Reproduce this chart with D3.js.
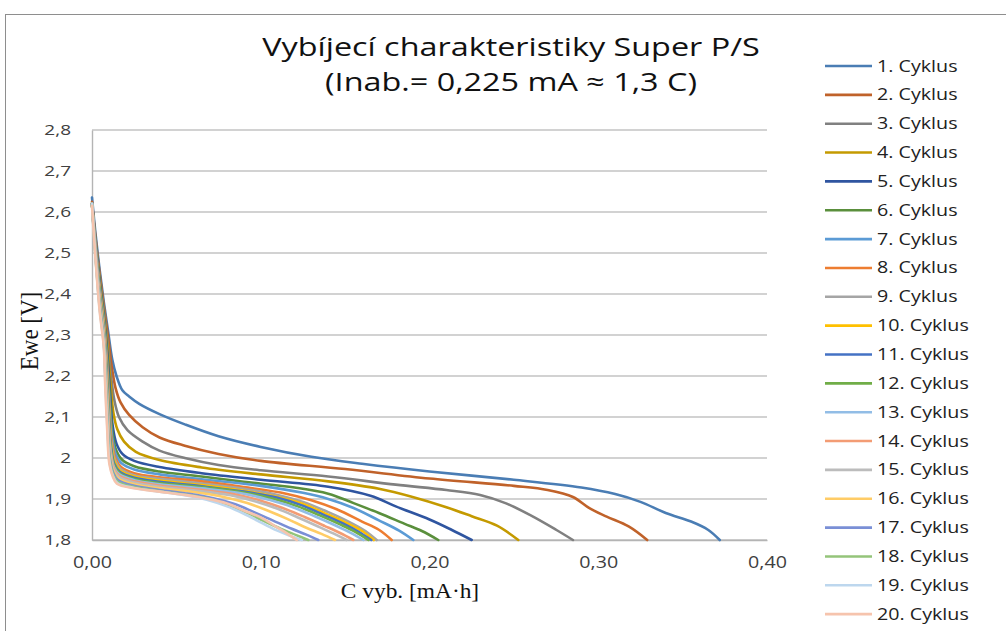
<!DOCTYPE html>
<html>
<head>
<meta charset="utf-8">
<script src="https://cdn.jsdelivr.net/npm/d3@7"></script>
<style>
  body { margin: 0; background: #fff; }
  svg { display: block; }
</style>
</head>
<body>
<div id="chart"></div>
<script>
// chart data
var titleLines = ["Vybíjecí charakteristiky Super P/S", "(Inab.= 0,225 mA ≈ 1,3 C)"];
var xTitle = "C vyb. [mA·h]";
var yTitle = "Ewe [V]";

var xTickValues = [0, 0.1, 0.2, 0.3, 0.4];
var xTickLabels = ["0,00", "0,10", "0,20", "0,30", "0,40"];
var yTickValues = [1.8, 1.9, 2.0, 2.1, 2.2, 2.3, 2.4, 2.5, 2.6, 2.7, 2.8];
var yTickLabels = ["1,8", "1,9", "2", "2,1", "2,2", "2,3", "2,4", "2,5", "2,6", "2,7", "2,8"];

var seriesNames = ["1. Cyklus", "2. Cyklus", "3. Cyklus", "4. Cyklus", "5. Cyklus",
  "6. Cyklus", "7. Cyklus", "8. Cyklus", "9. Cyklus", "10. Cyklus",
  "11. Cyklus", "12. Cyklus", "13. Cyklus", "14. Cyklus", "15. Cyklus",
  "16. Cyklus", "17. Cyklus", "18. Cyklus", "19. Cyklus", "20. Cyklus"];

var seriesColors = ["#4a7db4", "#c0622a", "#808080", "#c49a00", "#2f55a0",
  "#5a8f3c", "#5b9bd5", "#ed7d31", "#a5a5a5", "#ffc000",
  "#4472c4", "#70ad47", "#92bde6", "#f39c74", "#bcbcbc",
  "#ffcc66", "#7a8fd6", "#94c47a", "#bdd7ee", "#f6c4ad"];

// [capacity mA·h, Ewe V]
var c1 = [[0,2.635],[0.002,2.55],[0.0045,2.46],[0.007,2.38],[0.0095,2.31],[0.012,2.24],[0.0145,2.2],[0.018,2.165],[0.022,2.15],[0.028,2.132],[0.04,2.107],[0.055,2.082],[0.075,2.053],[0.10,2.027],[0.13,2.003],[0.16,1.986],[0.20,1.967],[0.25,1.947],[0.29,1.928],[0.31,1.912],[0.325,1.893],[0.34,1.866],[0.355,1.845],[0.365,1.825],[0.372,1.80]];
var c2 = [[0,2.625],[0.002,2.54],[0.0045,2.45],[0.007,2.37],[0.0095,2.295],[0.0118,2.22],[0.014,2.17],[0.017,2.135],[0.022,2.105],[0.03,2.075],[0.04,2.05],[0.055,2.03],[0.075,2.01],[0.10,1.993],[0.15,1.973],[0.20,1.95],[0.25,1.932],[0.27,1.922],[0.285,1.905],[0.295,1.877],[0.305,1.857],[0.318,1.833],[0.329,1.80]];
var c3 = [[0,2.62],[0.002,2.535],[0.0045,2.44],[0.007,2.36],[0.0093,2.28],[0.0113,2.2],[0.0133,2.14],[0.016,2.1],[0.021,2.068],[0.03,2.04],[0.04,2.018],[0.055,2.0],[0.075,1.983],[0.10,1.97],[0.14,1.955],[0.18,1.935],[0.21,1.922],[0.23,1.91],[0.245,1.89],[0.26,1.86],[0.275,1.825],[0.285,1.80]];
var c4 = [[0,2.62],[0.002,2.53],[0.0045,2.435],[0.007,2.35],[0.0092,2.27],[0.011,2.18],[0.0127,2.11],[0.015,2.07],[0.019,2.04],[0.026,2.015],[0.04,1.995],[0.065,1.977],[0.10,1.96],[0.14,1.943],[0.17,1.925],[0.19,1.905],[0.21,1.88],[0.225,1.858],[0.24,1.835],[0.2526,1.80]];
var c5 = [[0,2.62],[0.002,2.53],[0.0045,2.43],[0.007,2.345],[0.009,2.26],[0.0107,2.16],[0.0122,2.08],[0.0145,2.035],[0.018,2.01],[0.025,1.993],[0.04,1.978],[0.065,1.963],[0.10,1.947],[0.14,1.93],[0.165,1.908],[0.18,1.882],[0.20,1.85],[0.213,1.825],[0.225,1.80]];
var c6 = [[0,2.62],[0.002,2.525],[0.0045,2.425],[0.007,2.34],[0.0089,2.25],[0.0105,2.15],[0.012,2.065],[0.0142,2.02],[0.018,1.995],[0.025,1.98],[0.04,1.967],[0.065,1.955],[0.09,1.942],[0.12,1.928],[0.14,1.913],[0.155,1.89],[0.17,1.866],[0.185,1.84],[0.1955,1.822],[0.2052,1.80]];
var c7 = [[0,2.62],[0.002,2.525],[0.0045,2.42],[0.007,2.335],[0.0088,2.245],[0.0103,2.14],[0.0118,2.055],[0.014,2.01],[0.0175,1.987],[0.025,1.972],[0.04,1.96],[0.065,1.948],[0.10,1.932],[0.125,1.915],[0.14,1.90],[0.155,1.878],[0.17,1.848],[0.182,1.823],[0.1904,1.80]];
var c8 = [[0,2.62],[0.002,2.52],[0.0045,2.415],[0.007,2.33],[0.0087,2.24],[0.0102,2.13],[0.0116,2.045],[0.0138,2.0],[0.0172,1.978],[0.025,1.963],[0.04,1.953],[0.065,1.943],[0.09,1.929],[0.115,1.913],[0.13,1.897],[0.145,1.875],[0.16,1.845],[0.17,1.825],[0.1776,1.80]];
var c9 = [[0,2.62],[0.002,2.52],[0.0045,2.41],[0.007,2.325],[0.0086,2.235],[0.0101,2.125],[0.0114,2.04],[0.0136,1.995],[0.017,1.973],[0.025,1.958],[0.04,1.949],[0.065,1.938],[0.09,1.925],[0.11,1.91],[0.125,1.893],[0.14,1.868],[0.152,1.845],[0.162,1.822],[0.1687,1.80]];
var c10 = [[0,2.62],[0.002,2.515],[0.0045,2.405],[0.007,2.32],[0.0085,2.23],[0.01,2.12],[0.0113,2.035],[0.0134,1.99],[0.0168,1.969],[0.025,1.955],[0.04,1.945],[0.065,1.934],[0.09,1.92],[0.11,1.905],[0.125,1.888],[0.138,1.865],[0.15,1.843],[0.16,1.822],[0.167,1.80]];
var c11 = [[0,2.62],[0.002,2.515],[0.0045,2.4],[0.007,2.315],[0.0085,2.225],[0.0099,2.115],[0.0112,2.03],[0.0132,1.986],[0.0166,1.966],[0.025,1.952],[0.04,1.942],[0.065,1.931],[0.09,1.918],[0.11,1.903],[0.124,1.885],[0.137,1.862],[0.149,1.84],[0.158,1.82],[0.1655,1.80]];
var c12 = [[0,2.62],[0.002,2.51],[0.0045,2.4],[0.007,2.31],[0.0084,2.22],[0.0098,2.11],[0.0111,2.025],[0.0131,1.982],[0.0164,1.963],[0.025,1.949],[0.04,1.939],[0.065,1.929],[0.09,1.916],[0.108,1.90],[0.122,1.882],[0.135,1.86],[0.147,1.838],[0.156,1.82],[0.1638,1.80]];
var c13 = [[0,2.62],[0.002,2.51],[0.0045,2.395],[0.007,2.305],[0.0083,2.215],[0.0097,2.105],[0.011,2.02],[0.013,1.978],[0.0162,1.96],[0.025,1.946],[0.04,1.936],[0.065,1.926],[0.09,1.913],[0.105,1.898],[0.119,1.88],[0.132,1.858],[0.144,1.836],[0.153,1.818],[0.1608,1.80]];
var c14 = [[0,2.62],[0.002,2.505],[0.0045,2.39],[0.007,2.3],[0.0083,2.21],[0.0096,2.1],[0.0109,2.015],[0.0129,1.975],[0.016,1.957],[0.025,1.943],[0.04,1.933],[0.06,1.924],[0.085,1.911],[0.10,1.896],[0.113,1.878],[0.126,1.856],[0.138,1.834],[0.147,1.817],[0.1549,1.80]];
var c15 = [[0,2.62],[0.002,2.505],[0.0045,2.385],[0.007,2.295],[0.0082,2.205],[0.0095,2.095],[0.0108,2.01],[0.0128,1.972],[0.0158,1.954],[0.025,1.94],[0.04,1.93],[0.06,1.921],[0.082,1.909],[0.097,1.894],[0.11,1.876],[0.122,1.855],[0.134,1.833],[0.143,1.816],[0.1509,1.80]];
var c16 = [[0,2.62],[0.002,2.5],[0.0045,2.38],[0.007,2.29],[0.0081,2.2],[0.0094,2.09],[0.0107,2.005],[0.0127,1.968],[0.0156,1.95],[0.025,1.936],[0.04,1.926],[0.06,1.917],[0.078,1.905],[0.092,1.89],[0.104,1.872],[0.116,1.851],[0.127,1.83],[0.136,1.815],[0.144,1.80]];
var c17 = [[0,2.62],[0.002,2.5],[0.0045,2.375],[0.007,2.285],[0.008,2.195],[0.0093,2.085],[0.0106,2.0],[0.0126,1.964],[0.0154,1.946],[0.025,1.932],[0.04,1.922],[0.055,1.914],[0.072,1.902],[0.085,1.887],[0.096,1.868],[0.107,1.848],[0.118,1.828],[0.127,1.813],[0.1341,1.80]];
var c18 = [[0,2.62],[0.002,2.495],[0.0045,2.37],[0.007,2.28],[0.008,2.19],[0.0092,2.08],[0.0105,1.995],[0.0125,1.96],[0.0152,1.942],[0.025,1.929],[0.04,1.919],[0.055,1.911],[0.07,1.90],[0.082,1.884],[0.092,1.866],[0.102,1.846],[0.112,1.827],[0.121,1.812],[0.1282,1.80]];
var c19 = [[0,2.62],[0.002,2.495],[0.0045,2.365],[0.007,2.275],[0.0079,2.185],[0.0091,2.075],[0.0104,1.99],[0.0124,1.957],[0.015,1.939],[0.025,1.927],[0.04,1.918],[0.055,1.909],[0.068,1.898],[0.08,1.882],[0.09,1.864],[0.099,1.845],[0.108,1.826],[0.117,1.811],[0.1243,1.80]];
var c20 = [[0,2.615],[0.002,2.49],[0.0045,2.36],[0.007,2.27],[0.0078,2.18],[0.009,2.07],[0.0103,1.985],[0.0123,1.955],[0.0148,1.937],[0.025,1.926],[0.04,1.918],[0.055,1.91],[0.068,1.901],[0.08,1.889],[0.09,1.872],[0.10,1.855],[0.11,1.83],[0.116,1.815],[0.1213,1.80]];

var seriesData = [c1, c2, c3, c4, c5, c6, c7, c8, c9, c10,
  c11, c12, c13, c14, c15, c16, c17, c18, c19, c20];

//-----------------------------------------------------------------------------

var W = 1006, H = 631;
var plot = {left: 92, right: 767, top: 130, bottom: 540};
var stretchX = 1.27; //text in the reference is drawn a little wide
var sansFont = "'Open Sans', sans-serif";
var serifFont = "'Liberation Serif', 'Times New Roman', serif";

var svg = d3.select("#chart").append("svg")
  .attr("width", W)
  .attr("height", H);

//outer chart frame
svg.append("rect")
  .attr("x", 5.5).attr("y", 14.5)
  .attr("width", W + 10).attr("height", H + 10)
  .attr("fill", "#fff")
  .attr("stroke", "#8e8e8e")
  .attr("stroke-width", 1);

var x = d3.scaleLinear().domain([0, 0.4]).range([plot.left, plot.right]);
var y = d3.scaleLinear().domain([1.8, 2.8]).range([plot.bottom, plot.top]);

//horizontal gridlines
svg.append("g").attr("class", "grid")
  .selectAll("line")
  .data(yTickValues)
  .enter()
  .append("line")
  .attr("x1", plot.left).attr("x2", plot.right)
  .attr("y1", function(d) { return y(d); })
  .attr("y2", function(d) { return y(d); })
  .attr("stroke", "#c3c3c3")
  .attr("stroke-width", 1.4);

//y axis
var yAxis = svg.append("g")
  .attr("transform", "translate(" + plot.left + ",0)")
  .call(d3.axisLeft(y).tickValues(yTickValues).tickSize(0).tickPadding(21)
    .tickFormat(function(d, i) { return yTickLabels[i]; }));
yAxis.select(".domain").attr("stroke", "#b4b4b4").attr("stroke-width", 1.4);
yAxis.selectAll("text")
  .attr("font-family", sansFont)
  .attr("font-size", 15)
  .attr("fill", "#404040")
  .attr("transform", "scale(" + stretchX + ",1)")
  .attr("x", -21 / stretchX);

//x axis (tick text sits at x=0 inside each tick group)
var xAxis = svg.append("g")
  .attr("transform", "translate(0," + plot.bottom + ")")
  .call(d3.axisBottom(x).tickValues(xTickValues).tickSize(0).tickPadding(17)
    .tickFormat(function(d, i) { return xTickLabels[i]; }));
xAxis.select(".domain").attr("stroke", "#b4b4b4").attr("stroke-width", 1.4);
xAxis.selectAll("text")
  .attr("font-family", sansFont)
  .attr("font-size", 15.5)
  .attr("fill", "#404040")
  .attr("transform", "scale(" + stretchX + ",1)");

//series lines
var line = d3.line()
  .x(function(d) { return x(d[0]); })
  .y(function(d) { return y(d[1]); })
  .curve(d3.curveCatmullRom.alpha(0.5));

svg.append("g").attr("class", "series")
  .selectAll("path")
  .data(seriesData)
  .enter()
  .append("path")
  .attr("d", line)
  .attr("fill", "none")
  .attr("stroke", function(d, i) { return seriesColors[i]; })
  .attr("stroke-width", 2.6)
  .attr("stroke-linejoin", "round")
  .attr("stroke-linecap", "round");

//title
var title = svg.append("g").attr("class", "title");
titleLines.forEach(function(t, i) {
  title.append("text")
    .attr("transform", "translate(511," + (56 + i * 35) + ") scale(" + stretchX + ",1)")
    .attr("text-anchor", "middle")
    .attr("font-family", sansFont)
    .attr("font-size", 25.5)
    .attr("fill", "#111")
    .text(t);
});

//axis titles
svg.append("text")
  .attr("transform", "translate(410,598) scale(1.17,1)")
  .attr("text-anchor", "middle")
  .attr("font-family", serifFont)
  .attr("font-size", 20)
  .attr("fill", "#111")
  .text(xTitle);

svg.append("text")
  .attr("transform", "translate(38,331) rotate(-90) scale(1,1.1)")
  .attr("text-anchor", "middle")
  .attr("font-family", serifFont)
  .attr("font-size", 23)
  .attr("fill", "#111")
  .text(yTitle);

//legend
var legend = svg.append("g").attr("class", "legend")
  .selectAll("g")
  .data(seriesNames)
  .enter()
  .append("g")
  .attr("transform", function(d, i) { return "translate(825," + (66 + i * 28.85) + ")"; });

legend.append("line")
  .attr("x1", 0).attr("x2", 47)
  .attr("y1", 0).attr("y2", 0)
  .attr("stroke", function(d, i) { return seriesColors[i]; })
  .attr("stroke-width", 2.6);

legend.append("text")
  .attr("transform", "translate(52,5.5) scale(" + stretchX + ",1)")
  .attr("font-family", sansFont)
  .attr("font-size", 15.5)
  .attr("fill", "#222")
  .text(function(d) { return d; });
</script>
</body>
</html>
